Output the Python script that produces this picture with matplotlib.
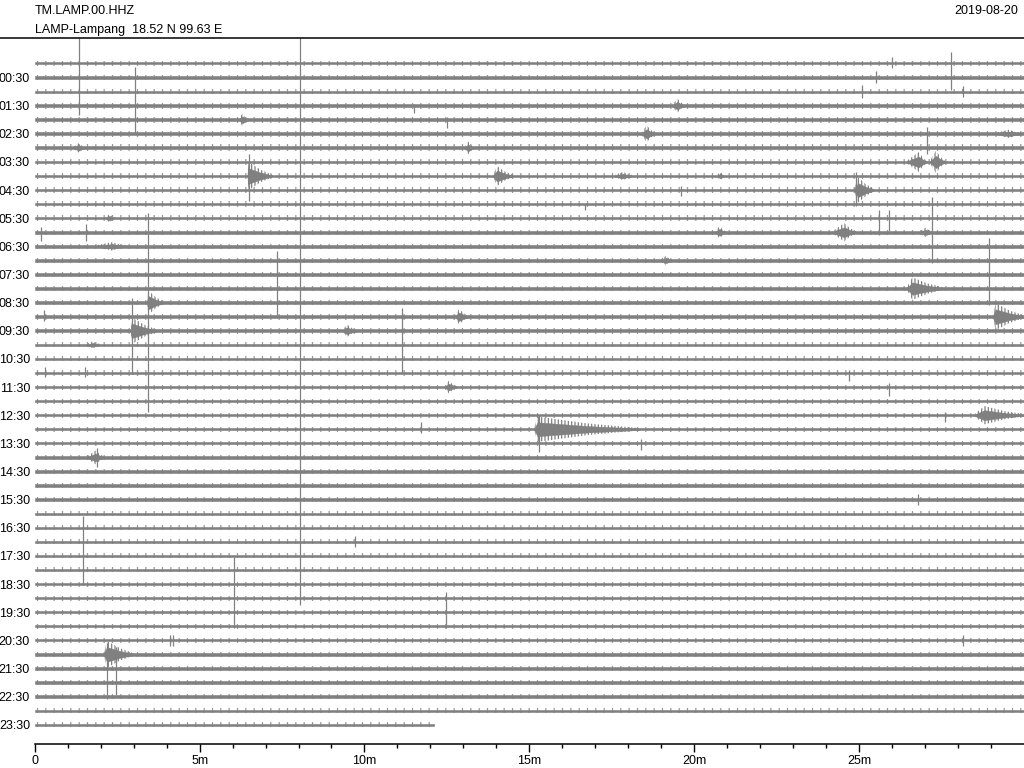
import numpy as np
import matplotlib.pyplot as plt
from matplotlib.lines import Line2D

plt.rcParams['font.family'] = ['Liberation Sans', 'DejaVu Sans']
plt.rcParams['font.size'] = 9
plt.rcParams['hatch.linewidth'] = 0.9

# header
station = 'TM.LAMP.00.HHZ'
site = 'LAMP-Lampang  18.52 N 99.63 E'
day = '2019-08-20'

# 48 half-hour rows, labels on the hh:30 rows
row_labels = ['00:30', '01:30', '02:30', '03:30', '04:30', '05:30', '06:30', '07:30',
              '08:30', '09:30', '10:30', '11:30', '12:30', '13:30', '14:30', '15:30',
              '16:30', '17:30', '18:30', '19:30', '20:30', '21:30', '22:30', '23:30']
x_ticks = [0, 5, 10, 15, 20, 25]
x_labels = ['0', '5m', '10m', '15m', '20m', '25m']

# background noise half-width per row (in row spacings)
noise = [0.07, 0.075, 0.075, 0.10, 0.095, 0.095, 0.11, 0.095, 0.09, 0.095, 0.09, 0.09,
         0.09, 0.09, 0.085, 0.085, 0.09, 0.09, 0.095, 0.095, 0.085, 0.08, 0.085, 0.08,
         0.08, 0.08, 0.085, 0.08, 0.08, 0.08, 0.08, 0.08, 0.08, 0.08, 0.08, 0.08,
         0.08, 0.08, 0.08, 0.08, 0.08, 0.08, 0.08, 0.08, 0.08, 0.08, 0.08, 0.08]
# minutes recorded per row (last row stops early)
trace_end = [30] * 47 + [12.1]

# events: row, start minute, duration (min), peak amplitude, rise fraction
ev_row = [4, 6, 6, 8, 8, 11, 13, 17, 19, 19, 18, 20, 23, 3, 5, 5, 7, 7, 8, 8,
          9, 12, 12, 12, 14, 16, 18, 25, 26, 28, 42]
ev_start = [6.2, 1.2, 13.05, 6.45, 13.9, 2.15, 1.9, 3.4, 2.9, 9.35, 12.75, 1.6, 12.45,
            19.35, 18.4, 29.2, 26.45, 27.15, 17.6, 20.7, 24.85, 20.65, 24.2, 26.85,
            19.0, 26.45, 29.05, 28.5, 15.15, 1.6, 2.1]
ev_dur = [0.25, 0.3, 0.25, 0.75, 0.6, 0.25, 0.9, 0.5, 0.8, 0.4, 0.4, 0.35, 0.35,
          0.35, 0.4, 0.7, 0.6, 0.45, 0.5, 0.2, 0.6, 0.3, 0.7, 0.35,
          0.3, 1.1, 0.95, 1.5, 3.2, 0.5, 0.9]
ev_amp = [0.45, 0.35, 0.45, 1.0, 0.7, 0.3, 0.3, 0.85, 0.9, 0.45, 0.55, 0.25, 0.45,
          0.5, 0.6, 0.3, 0.7, 0.8, 0.3, 0.3, 0.9, 0.45, 0.65, 0.35,
          0.35, 0.8, 0.95, 0.65, 0.9, 0.5, 0.95]
ev_rise = [0.4, 0.5, 0.4, 0.05, 0.2, 0.5, 0.5, 0.1, 0.1, 0.3, 0.3, 0.5, 0.3,
           0.4, 0.4, 0.5, 0.6, 0.4, 0.5, 0.5, 0.2, 0.4, 0.5, 0.5,
           0.5, 0.15, 0.1, 0.2, 0.03, 0.5, 0.1]

# spikes / glitches: row, minute, reach up, reach down (row spacings)
sp_row = [1, 3, 18, 17, 19, 20, 16, 1, 6, 11, 11, 12, 15, 35, 38, 39, 42, 42,
          8, 9, 26,
          0, 1, 2, 2, 3, 4, 9, 10, 12, 12, 18, 22, 22, 22, 23, 25, 26, 27, 28,
          31, 34, 41, 41, 41]
sp_min = [1.34, 3.05, 8.06, 3.44, 2.95, 11.15, 7.35, 27.8, 27.05, 25.6, 25.9, 27.2,
          28.95, 1.47, 6.05, 12.46, 2.18, 2.48,
          6.5, 24.9, 15.3,
          26.0, 25.5, 25.1, 28.15, 11.5, 12.5, 19.6, 16.7, 0.2, 1.55, 0.27, 0.3, 1.52,
          24.7, 25.9, 27.6, 11.7, 18.4, 1.9, 26.8, 9.7, 4.1, 4.2, 28.15]
sp_up = [2.81, 2.75, 19.8, 6.4, 2.3, 2.6, 2.7, 1.8, 1.5, 0.6, 0.6, 2.5, 2.6, 2.8,
         2.9, 1.4, 0.8, 0.5,
         1.6, 1.3, 1.0,
         0.45, 0.5, 0.45, 0.4, 0.1, 0.2, 0.3, 0.1, 0.4, 0.6, 0.5, 0.4, 0.4,
         0.2, 0.3, 0.2, 0.5, 0.3, 0.7, 0.4, 0.4, 0.4, 0.4, 0.4]
sp_down = [2.67, 2.0, 20.5, 7.8, 3.1, 2.0, 1.9, 0.9, 0.4, 1.2, 0.9, 2.2, 2.2, 2.1,
           2.1, 1.1, 3.2, 2.9,
           1.8, 1.1, 1.6,
           0.3, 0.4, 0.45, 0.4, 0.5, 0.6, 0.4, 0.4, 0.6, 0.6, 0.3, 0.3, 0.3,
           0.6, 0.6, 0.5, 0.3, 0.5, 0.7, 0.4, 0.4, 0.4, 0.4, 0.4]

gray = '#808080'

fig = plt.figure(figsize=(10.24, 7.68), dpi=100)
ax = fig.add_axes([34.7 / 1024, 24 / 768, 1 - 34.7 / 1024, 706 / 768])

# continuous traces: solid core plus a thin fringe of noise wiggles
for i, (amp, end) in enumerate(zip(noise, trace_end)):
    ax.fill_between([0, end], i - amp, i + amp, color=gray, lw=0.4)
    ax.fill_between([0, end], i - 2.2 * amp, i + 2.2 * amp, facecolor='none',
                    edgecolor=gray, hatch='||', lw=0, alpha=0.8)

# events: solid core plus hatched coda
for r, s, d, a, f in zip(ev_row, ev_start, ev_dur, ev_amp, ev_rise):
    xs = np.array([s, s + f * d, s + (f + 1) / 2 * d, s + d])
    env = np.array([noise[r], a, 0.45 * a, noise[r]])
    ax.fill_between(xs, r - env, r + env, facecolor='none', edgecolor=gray,
                    hatch='|||||', lw=0)
    ax.fill_between(xs, r - 0.55 * env, r + 0.55 * env, color=gray, lw=0.3)

# spikes
sp_row = np.array(sp_row)
ax.vlines(sp_min, sp_row - np.array(sp_up), sp_row + np.array(sp_down),
          color=gray, lw=0.9)

ax.set_xlim(0, 30)
ax.set_ylim(48.37, -1.81)
ax.set_xticks(x_ticks)
ax.set_xticklabels(x_labels)
ax.set_xticks(range(1, 30), minor=True)
ax.set_yticks(range(1, 48, 2))
ax.set_yticklabels(row_labels)
ax.tick_params(axis='x', which='major', length=5.8, width=1.0, pad=2, direction='out')
ax.tick_params(axis='x', which='minor', length=2.9, width=1.0, direction='out')
ax.tick_params(axis='y', length=0, pad=3.4)
for side in ['top', 'left', 'right']:
    ax.spines[side].set_visible(False)
ax.spines['bottom'].set_linewidth(1.1)

# header line and texts
fig.add_artist(Line2D([0, 1], [1 - 38 / 768, 1 - 38 / 768], color='black', lw=1.1,
                      transform=fig.transFigure))
fig.text(34.7 / 1024, 1 - 14 / 768, station, va='baseline', ha='left')
fig.text(34.7 / 1024, 1 - 33 / 768, site, va='baseline', ha='left')
fig.text(1018 / 1024, 1 - 14 / 768, day, va='baseline', ha='right')

fig.savefig('out.png', dpi=100)
